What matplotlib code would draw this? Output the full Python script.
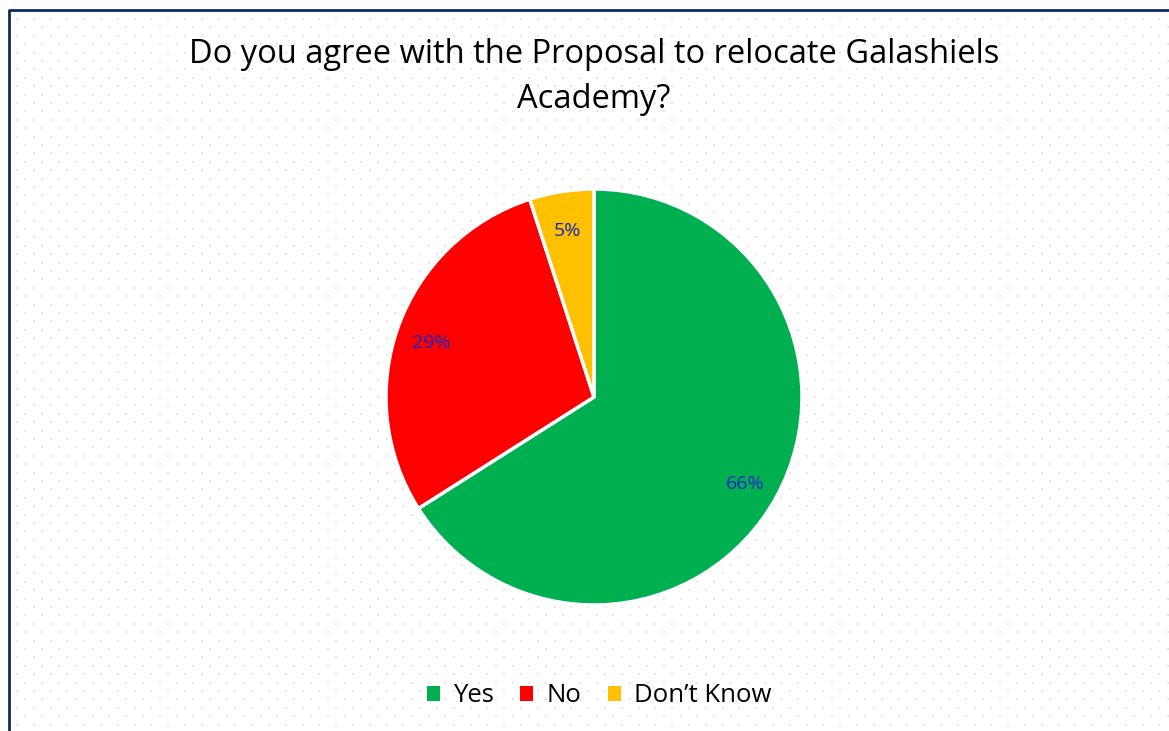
import numpy as np
import matplotlib
matplotlib.use("Agg")
from matplotlib import pyplot as plt
from matplotlib.patches import Patch

# survey answers
labels = ["Yes", "No", "Don\u2019t Know"]
shares = [66, 29, 5]
colours = ["#00B050", "#FF0000", "#FFC000"]
title = "Do you agree with the Proposal to relocate Galashiels\nAcademy?"

W, H = 1169, 731
fig = plt.figure(figsize=(W / 100, H / 100), dpi=100)
fig.patch.set_facecolor("white")

# dotted background + border, in pixel coordinates
bg = fig.add_axes([0, 0, 1, 1])
bg.set_xlim(0, W)
bg.set_ylim(H, 0)
bg.axis("off")
xs, ys = [], []
step = 8.4
for j, y in enumerate(np.arange(19, H, step)):
    off = 0 if j % 2 == 0 else step
    for x in np.arange(17 + off, W, 2 * step):
        xs.append(x)
        ys.append(y)
bg.scatter(xs, ys, s=1.2, color="#E6E6E6", marker="s", linewidths=0)
bg.plot([9, 9, W + 5], [H + 5, 10, 10], color="#0E2A66", lw=2)

plt.rcParams["font.family"] = ["Open Sans", "DejaVu Sans"]

fig.text(594 / W, 1 - 77 / H, title, ha="center", va="center",
         fontsize=23.5, linespacing=1.45, color="black")

# pie: centre (594, 397), radius 208 px
r = 208
ax = fig.add_axes([(594 - r) / W, 1 - (397 + r) / H, 2 * r / W, 2 * r / H])
wedges, texts, autotexts = ax.pie(
    shares, colors=colours, startangle=90, counterclock=False,
    autopct="%1.0f%%", pctdistance=0.83,
    wedgeprops=dict(edgecolor="white", linewidth=2.5),
    textprops=dict(color="#1428C8", fontsize=14))
for t in autotexts:
    x, y = t.get_position()
    t.set_position((x, y - 0.02))
ax.set_xlim(-1, 1)
ax.set_ylim(-1, 1)
ax.set_aspect("equal")

handles = [Patch(facecolor=c, label=l) for c, l in zip(colours, labels)]
fig.legend(handles=handles, loc="center", bbox_to_anchor=(599 / W, 1 - 696 / H),
           ncol=3, frameon=False, fontsize=18.5, handlelength=0.5,
           handleheight=0.5, handletextpad=0.5, columnspacing=1.05)

fig.savefig("out.png", dpi=100)
